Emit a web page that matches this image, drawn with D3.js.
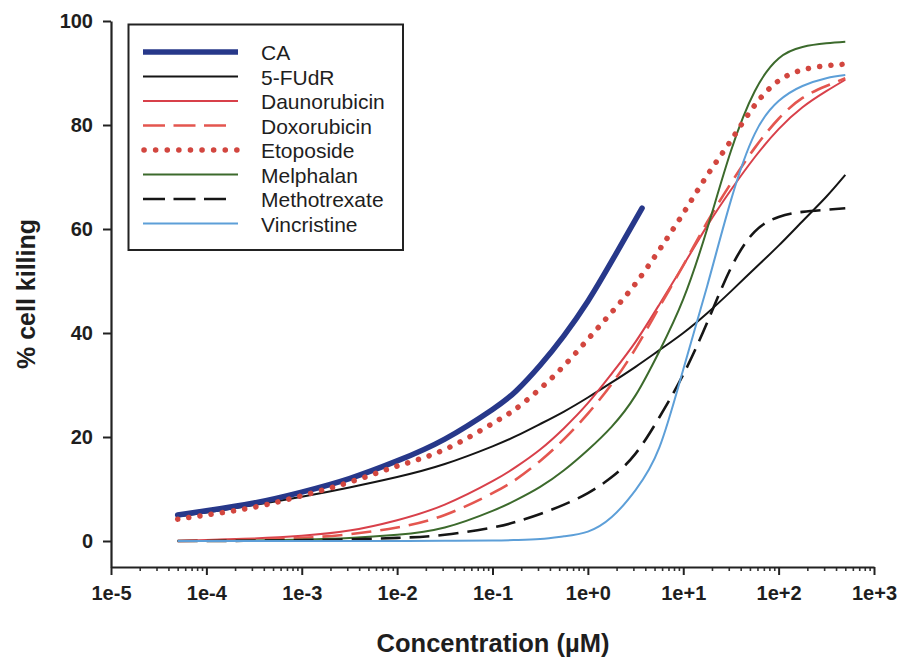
<!DOCTYPE html>
<html>
<head>
<meta charset="utf-8">
<script src="https://cdn.jsdelivr.net/npm/d3@7"></script>
<style>
  html, body { margin: 0; padding: 0; background: #fff; }
  svg { display: block; }
  text { font-family: "Liberation Sans", Arial, Helvetica, sans-serif; fill: #1e1e1e; }
</style>
</head>
<body>
<svg id="chart" width="901" height="659"></svg>
<script>
// ---------- data (concentration in µM, % cell killing) ----------
const concentrations = [5e-5, 1e-4, 3.16e-4, 1e-3, 3.16e-3, 1e-2, 3.16e-2, 0.1, 0.178, 0.316, 0.562, 1,
                        1.78, 3.16, 5.62, 10, 17.8, 31.6, 56.2, 100, 178, 316, 500];
const caConcentrations = [5e-5, 1e-4, 3.16e-4, 1e-3, 3.16e-3, 1e-2, 3.16e-2, 0.1, 0.178, 0.316, 0.562, 1, 1.78, 3.7];

const caValues           = [5.0, 5.8, 7.3, 9.4, 12.0, 15.4, 19.6, 25.3, 28.9, 33.8, 39.5, 46.1, 53.8, 64.0];
const fudrValues         = [4.7, 5.5, 6.9, 8.5, 10.3, 12.3, 14.8, 18.2, 20.2, 22.5, 24.9, 27.6, 30.5, 33.5, 36.7, 40.0, 43.8, 48.0, 52.4, 56.8, 61.5, 66.2, 70.4];
const daunorubicinValues = [0.0, 0.2, 0.5, 1.0, 2.0, 4.0, 7.0, 11.5, 14.3, 17.6, 21.7, 26.5, 32.2, 38.3, 45.5, 53.0, 60.6, 67.5, 73.8, 79.2, 83.4, 86.5, 88.7];
const doxorubicinValues  = [0.0, 0.1, 0.3, 0.6, 1.3, 2.6, 5.0, 9.2, 11.9, 15.4, 19.6, 24.5, 30.2, 37.0, 45.0, 53.0, 61.3, 68.8, 75.6, 81.2, 85.2, 87.5, 89.0];
const etoposideValues    = [4.2, 5.0, 6.5, 8.7, 11.3, 14.4, 17.6, 22.6, 25.5, 29.3, 33.7, 38.8, 44.0, 49.5, 56.0, 63.0, 70.3, 77.0, 83.8, 88.5, 90.6, 91.4, 91.7];
const melphalanValues    = [0.0, 0.0, 0.1, 0.3, 0.6, 1.2, 2.6, 5.8, 7.9, 10.4, 13.6, 17.5, 22.0, 28.0, 36.5, 46.5, 60.0, 75.0, 86.5, 92.8, 95.0, 95.7, 96.0];
const methotrexateValues = [0.0, 0.0, 0.05, 0.15, 0.3, 0.6, 1.2, 2.6, 3.7, 5.2, 7.0, 9.2, 12.3, 16.8, 23.8, 32.0, 42.0, 52.5, 59.5, 62.3, 63.3, 63.7, 64.0];
const vincristineValues  = [0.0, 0.0, 0.0, 0.0, 0.0, 0.0, 0.05, 0.1, 0.2, 0.4, 0.9, 1.8, 4.6, 9.8, 18.0, 33.0, 49.0, 65.5, 78.3, 84.6, 87.5, 89.0, 89.6];

const seriesNames = ["CA", "5-FUdR", "Daunorubicin", "Doxorubicin", "Etoposide", "Melphalan", "Methotrexate", "Vincristine"];
const xTickValues = [1e-5, 1e-4, 1e-3, 1e-2, 1e-1, 1e0, 1e1, 1e2, 1e3];
const xTickLabels = ["1e-5", "1e-4", "1e-3", "1e-2", "1e-1", "1e+0", "1e+1", "1e+2", "1e+3"];
const yTickValues = [0, 20, 40, 60, 80, 100];

// ---------- styles ----------
const styles = {
  "CA":           { color: "#27388a", width: 5.5, dash: null },
  "5-FUdR":       { color: "#151515", width: 2,   dash: null },
  "Daunorubicin": { color: "#d8404a", width: 2,   dash: null },
  "Doxorubicin":  { color: "#e4564f", width: 2.6, dash: "20,9" },
  "Etoposide":    { color: "#d2463f", width: 5.5, dash: "0.1,11.2", cap: "round" },
  "Melphalan":    { color: "#3c6a2c", width: 2,   dash: null },
  "Methotrexate": { color: "#151515", width: 2.6, dash: "20,9" },
  "Vincristine":  { color: "#5d9fd8", width: 2,   dash: null }
};

const seriesTable = [
  { name: "CA",           x: caConcentrations, y: caValues },
  { name: "5-FUdR",       x: concentrations,   y: fudrValues },
  { name: "Daunorubicin", x: concentrations,   y: daunorubicinValues },
  { name: "Doxorubicin",  x: concentrations,   y: doxorubicinValues },
  { name: "Etoposide",    x: concentrations,   y: etoposideValues },
  { name: "Melphalan",    x: concentrations,   y: melphalanValues },
  { name: "Methotrexate", x: concentrations,   y: methotrexateValues },
  { name: "Vincristine",  x: concentrations,   y: vincristineValues }
];

// ---------- layout ----------
const svg = d3.select("#chart");
const mLeft = 111, mRight = 874, mTop = 21, mBottom = 567;

const x = d3.scaleLog().domain([1e-5, 1e3]).range([mLeft, mRight]);
const y = d3.scaleLinear().domain([-5, 100]).range([mBottom, mTop]);

// lines
const line = d3.line()
  .x(d => x(d[0]))
  .y(d => y(d[1]))
  .curve(d3.curveNatural);

const order = ["5-FUdR", "Daunorubicin", "Doxorubicin", "Melphalan", "Methotrexate", "Vincristine", "CA", "Etoposide"];
order.forEach(name => {
  const s = seriesTable.find(t => t.name === name);
  const st = styles[name];
  const pts = s.x.map((c, i) => [c, s.y[i]]);
  svg.append("path")
    .attr("d", line(pts))
    .attr("fill", "none")
    .attr("stroke", st.color)
    .attr("stroke-width", st.width)
    .attr("stroke-dasharray", st.dash)
    .attr("stroke-linecap", st.cap || (name === "CA" ? "round" : "butt"))
    .attr("stroke-linejoin", "round");
});

// x axis
const xAxisG = svg.append("g").attr("transform", `translate(0,${mBottom})`);
const minorTicks = [];
for (let e = -5; e < 3; e++) for (let m = 2; m <= 9; m++) minorTicks.push(m * Math.pow(10, e));
xAxisG.append("g")
  .call(d3.axisBottom(x).tickValues(minorTicks).tickSize(4).tickSizeOuter(0).tickFormat(""))
  .call(g => g.select(".domain").remove())
  .call(g => g.selectAll("line").attr("stroke", "#333").attr("stroke-width", 1.6));
xAxisG.append("g")
  .call(d3.axisBottom(x).tickValues(xTickValues).tickSize(8).tickSizeOuter(0)
        .tickPadding(11)
        .tickFormat((d, i) => xTickLabels[i]))
  .call(g => g.select(".domain").attr("stroke", "#222").attr("stroke-width", 2.2))
  .call(g => g.selectAll("line").attr("stroke", "#222").attr("stroke-width", 2))
  .call(g => g.selectAll("text")
        .attr("font-size", 20).attr("font-weight", "bold")
        .attr("font-family", "'Liberation Sans', Arial, sans-serif").attr("fill", "#1e1e1e"));

// y axis
svg.append("g").attr("transform", `translate(${mLeft},0)`)
  .call(d3.axisLeft(y).tickValues(yTickValues).tickSize(8).tickSizeOuter(0).tickPadding(10))
  .call(g => g.select(".domain").attr("stroke", "#222").attr("stroke-width", 2.2))
  .call(g => g.selectAll("line").attr("stroke", "#222").attr("stroke-width", 2))
  .call(g => g.selectAll("text")
        .attr("font-size", 20).attr("font-weight", "bold")
        .attr("font-family", "'Liberation Sans', Arial, sans-serif").attr("fill", "#1e1e1e"));

// axis titles
svg.append("text")
  .attr("x", (mLeft + mRight) / 2 + 0.5)
  .attr("y", 652)
  .attr("text-anchor", "middle")
  .attr("font-size", 25.5).attr("font-weight", "bold")
  .text("Concentration (µM)");

svg.append("text")
  .attr("transform", `translate(35,${(mTop + mBottom) / 2}) rotate(-90)`)
  .attr("text-anchor", "middle")
  .attr("font-size", 25).attr("font-weight", "bold")
  .text("% cell killing");

// legend
const lg = svg.append("g");
lg.append("rect")
  .attr("x", 128.5).attr("y", 24.5).attr("width", 274.5).attr("height", 225.5)
  .attr("fill", "#fff").attr("stroke", "#222").attr("stroke-width", 2);
seriesNames.forEach((name, i) => {
  const st = styles[name];
  const ry = 52 + i * 24.5;
  const isDashed = !!st.dash && name !== "Etoposide";
  lg.append("line")
    .attr("x1", name === "Etoposide" ? 144 : 143)
    .attr("x2", isDashed ? 227 : 238)
    .attr("y1", ry).attr("y2", ry)
    .attr("stroke", st.color)
    .attr("stroke-width", st.width)
    .attr("stroke-dasharray", name === "Etoposide" ? "0.1,11.5" : (isDashed ? "22,8.5" : null))
    .attr("stroke-linecap", st.cap || "butt");
  lg.append("text")
    .attr("x", 261).attr("y", ry + 8)
    .attr("font-size", 21)
    .text(name);
});
</script>
</body>
</html>
